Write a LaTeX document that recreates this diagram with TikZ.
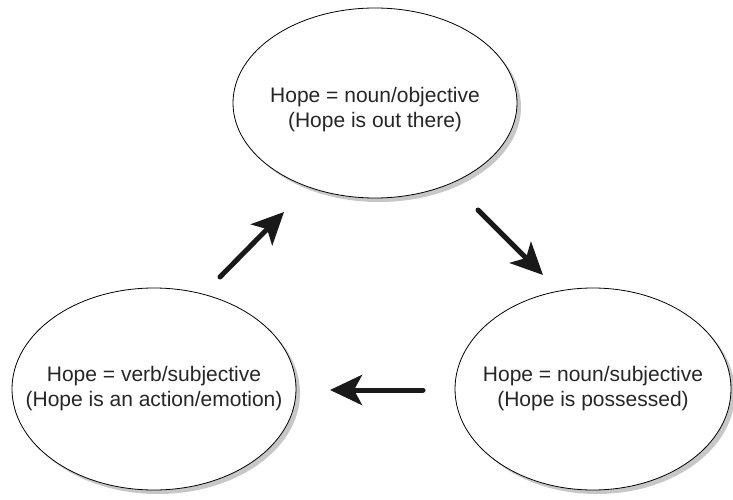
\documentclass[tikz,border=0pt]{standalone}
\usepackage{fontspec}
\setmainfont{Liberation Sans}
\usepackage{tikz}
\usetikzlibrary{arrows.meta,shadows}
\tikzset{
  hopering/.style={draw=black,line width=0.8pt,fill=white,
    drop shadow={shadow xshift=4pt,shadow yshift=-4pt,fill=black!22,opacity=1}},
  hopetext/.style={align=center,inner sep=0pt,text=black!85,font=\fontsize{21}{25}\selectfont},
  cyclearrow/.style={->,line width=5pt,color=black!90}
}
\begin{document}
\begin{tikzpicture}[line cap=round,line join=round,>={Stealth[length=32pt,width=30pt,inset=8pt]},x=1pt,y=1pt]
		\useasboundingbox (0,0) rectangle (733,499);
		\coordinate (objc) at (375,396);
		\coordinate (verbc) at (154,110);
		\coordinate (possc) at (593,110);
		\path[hopering] (objc) ellipse [x radius=142,y radius=95];
		\path[hopering] (verbc) ellipse [x radius=142,y radius=101];
		\path[hopering] (possc) ellipse [x radius=138,y radius=101];
		\node[hopetext] (objective) at ([yshift=-7]objc) {Hope = noun/objective\\(Hope is out there)};
		\node[hopetext] (verb) at (verbc) {Hope = verb/subjective\\(Hope is an action/emotion)};
		\node[hopetext] (possessed) at (possc) {Hope = noun/subjective\\(Hope is possessed)};
		\coordinate (v1) at (220,222);
		\coordinate (o1) at (284,287);
		\coordinate (o2) at (478,289);
		\coordinate (p1) at (543,224);
		\coordinate (p2) at (423,109);
		\coordinate (v2) at (330,109);
		\draw[cyclearrow] (v1) -- (o1);
		\draw[cyclearrow] (o2) -- (p1);
		\draw[cyclearrow] (p2) -- (v2);
\end{tikzpicture}
\end{document}
